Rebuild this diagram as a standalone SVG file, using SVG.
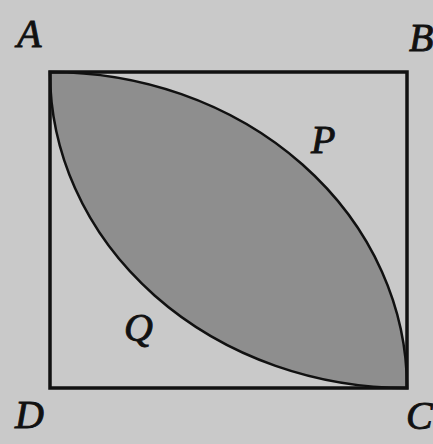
<svg xmlns="http://www.w3.org/2000/svg" width="433" height="444" viewBox="0 0 433 444">
<style>
.lbl{font-family:"Liberation Serif",serif;font-style:italic;font-size:40px;fill:#111;stroke:#111;stroke-width:0.9}
.edge{fill:none;stroke:#111;stroke-width:3.5}
</style>
<rect width="433" height="444" fill="#c9c9c9"/>
<g id="lens">
<path d="M50,72 A357,316 0 0,1 407,388 A357,316 0 0,1 50,72 Z" fill="#8e8e8e" stroke="#111" stroke-width="2.5"/>
</g>
<g id="connectors">
<rect class="edge" x="50" y="72" width="357" height="316"/>
</g>
<g id="labels">
<text class="lbl" x="17" y="47">A</text>
<text class="lbl" x="409" y="51">B</text>
<text class="lbl" x="311" y="153">P</text>
<text class="lbl" x="124" y="341">Q</text>
<text class="lbl" x="15" y="428">D</text>
<text class="lbl" x="406" y="429">C</text>
</g>
</svg>
